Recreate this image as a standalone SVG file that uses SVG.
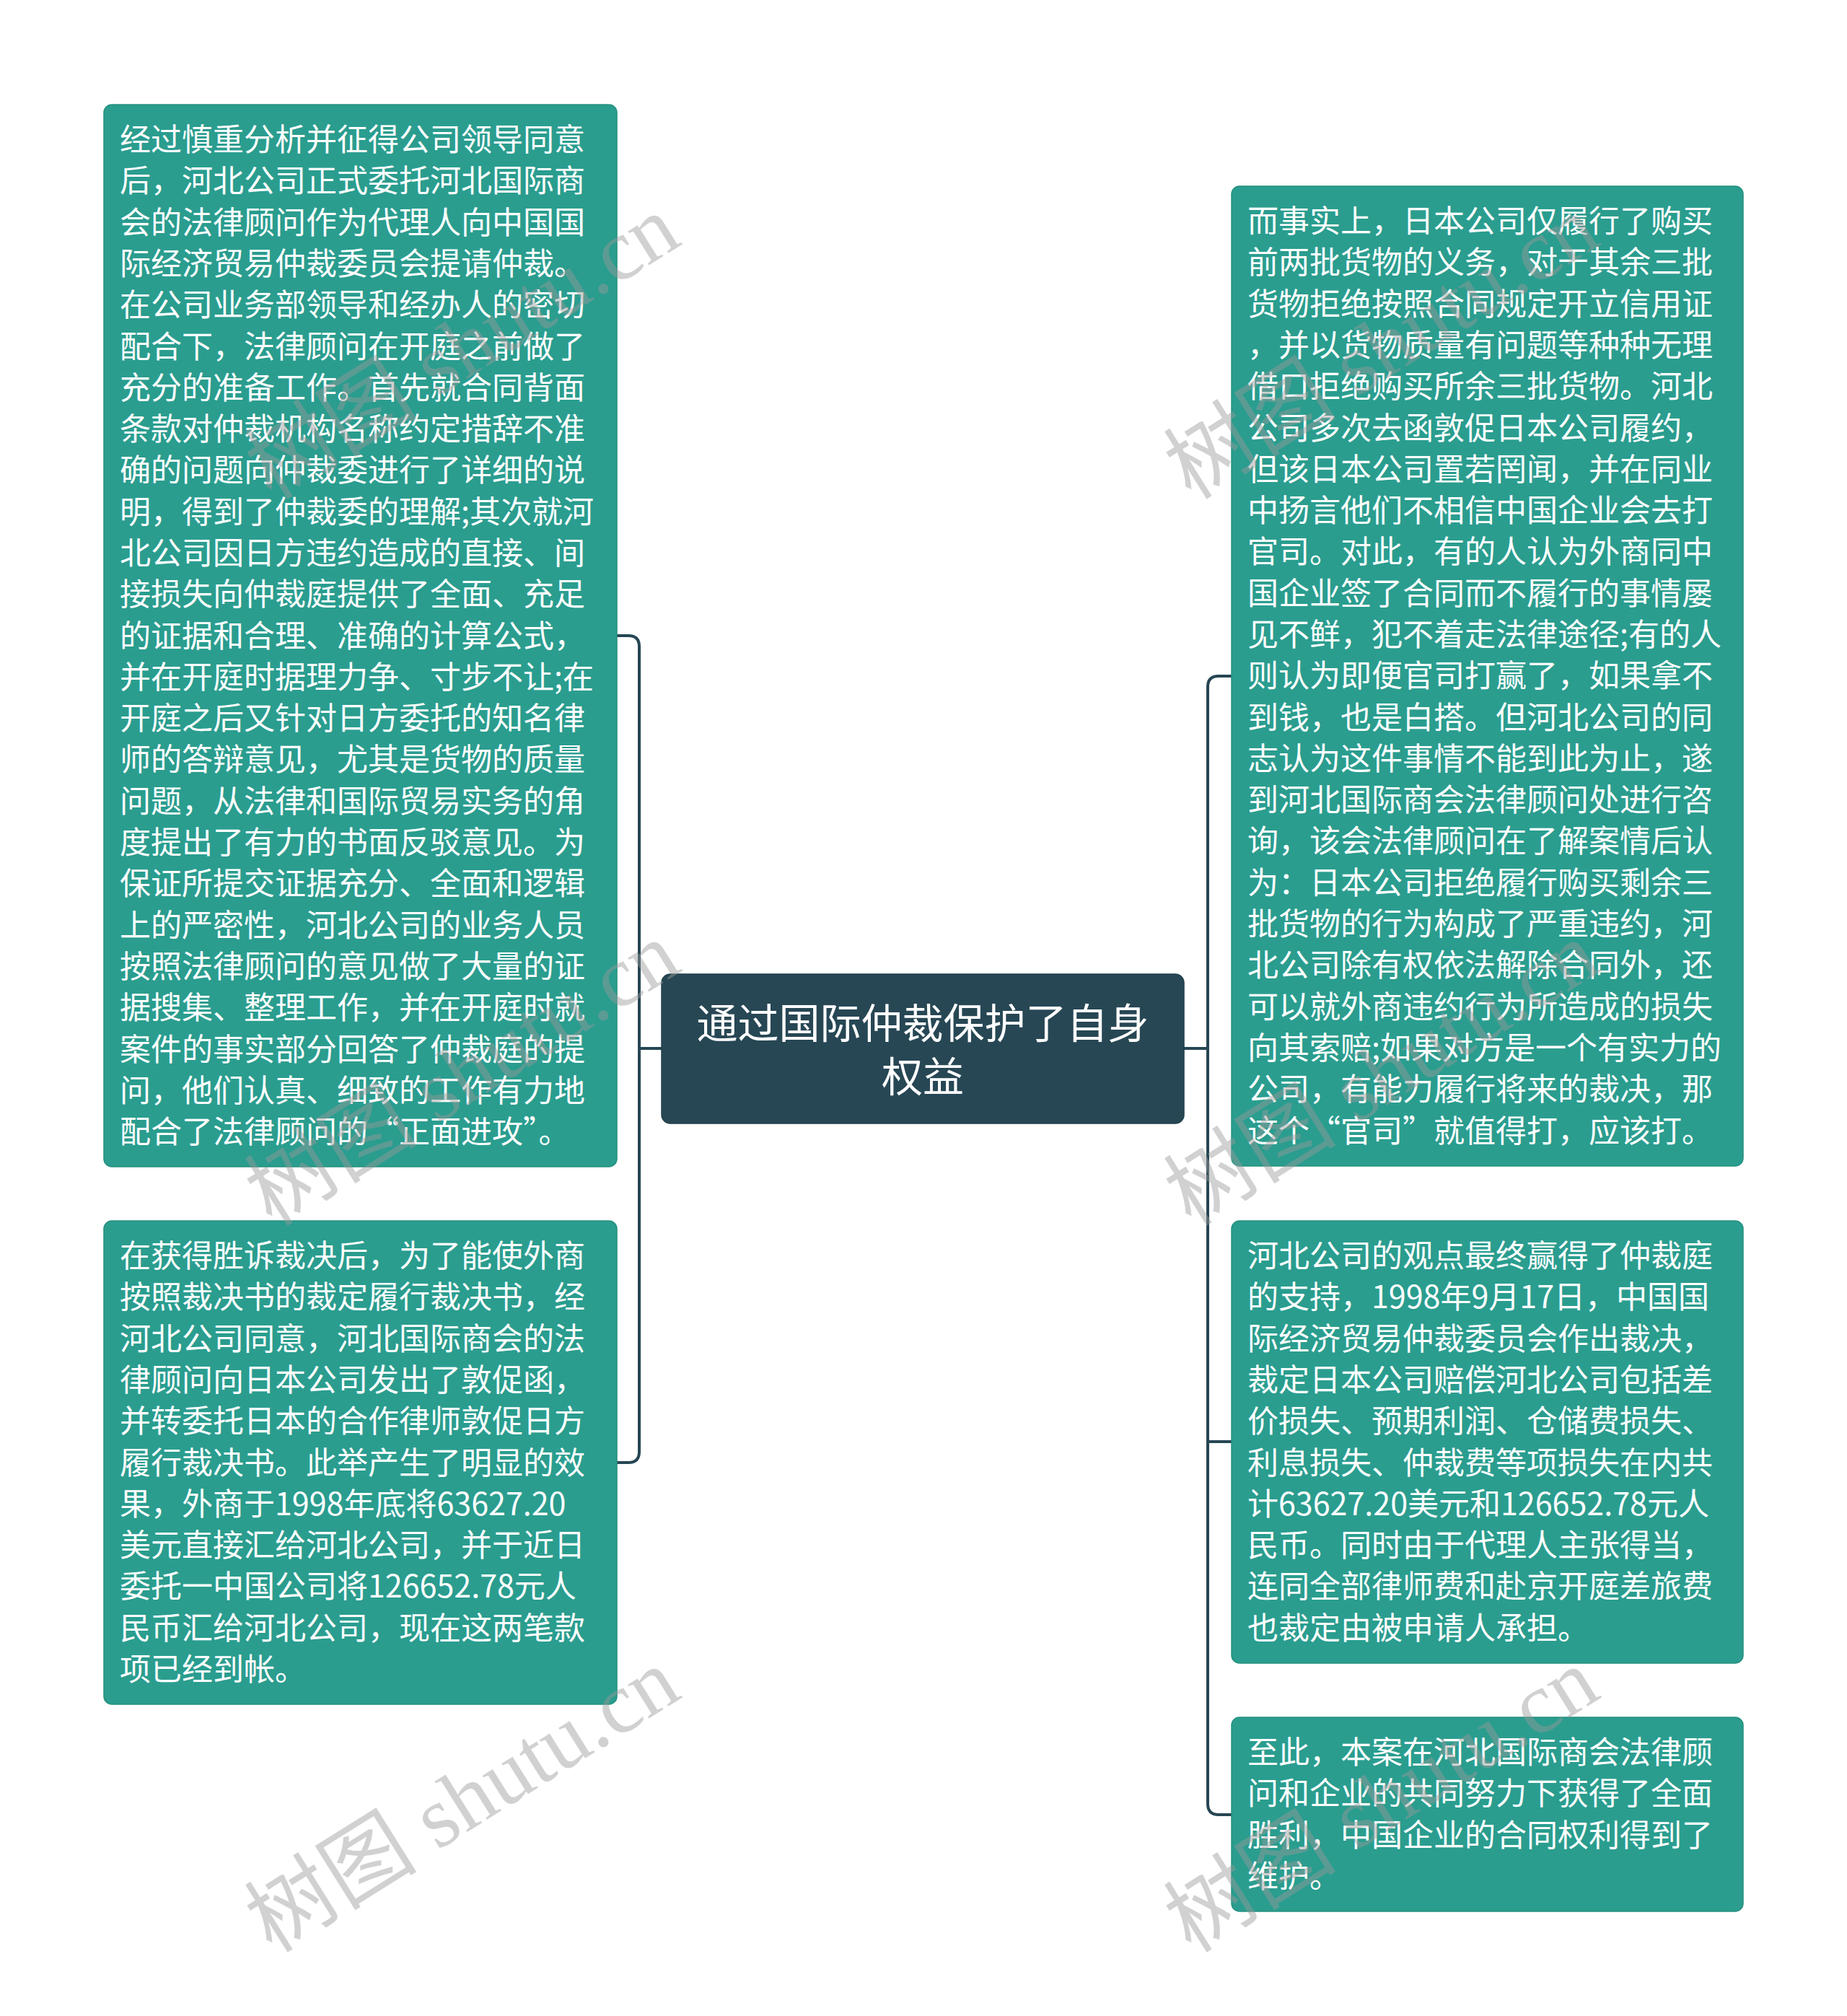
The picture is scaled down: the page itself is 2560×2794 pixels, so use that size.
<svg xmlns="http://www.w3.org/2000/svg" width="2560" height="2794" viewBox="0 0 2560 2794">
<style>
.bg{fill:#ffffff}
.node{fill:#2a9d8f;stroke:#25907f;stroke-width:1.5}
.root{fill:#274754;stroke:#22404c;stroke-width:1.5}
.t{font-family:"Noto Sans CJK SC","Noto Sans",sans-serif;font-size:43px;fill:#ffffff}
.rt{font-family:"Noto Sans CJK SC","Noto Sans",sans-serif;font-size:57px;fill:#ffffff;text-anchor:middle}
.conn{fill:none;stroke:#264653;stroke-width:4;stroke-linejoin:round}
.wm{font-family:"Liberation Serif","Noto Sans CJK SC",serif;font-size:120px;fill:#9a9a9a;opacity:0.45}
</style>
<rect class="bg" x="0" y="0" width="2560" height="2794"/>
<g id="connectors">
<path class="conn" d="M917,1453 H886"/>
<path class="conn" d="M855,881 H871 Q886,881 886,896 V2012 Q886,2027 871,2027 H855"/>
<path class="conn" d="M1641,1453 H1674"/>
<path class="conn" d="M1707,937 H1689 Q1674,937 1674,952 V2500 Q1674,2515 1689,2515 H1707"/>
<path class="conn" d="M1674,1998 H1707"/>
</g>
<g id="root">
<rect class="root" x="917" y="1350" width="724" height="207" rx="12"/>
<text class="rt" x="1279" y="1439">通过国际仲裁保护了自身</text>
<text class="rt" x="1279" y="1513">权益</text>
</g>
<g id="left1">
<rect class="node" x="144" y="145" width="711" height="1472" rx="11"/>
<text class="t" x="166" y="209">
<tspan x="166">经过慎重分析并征得公司领导同意</tspan>
<tspan x="166" dy="57.3">后，河北公司正式委托河北国际商</tspan>
<tspan x="166" dy="57.3">会的法律顾问作为代理人向中国国</tspan>
<tspan x="166" dy="57.3">际经济贸易仲裁委员会提请仲裁。</tspan>
<tspan x="166" dy="57.3">在公司业务部领导和经办人的密切</tspan>
<tspan x="166" dy="57.3">配合下，法律顾问在开庭之前做了</tspan>
<tspan x="166" dy="57.3">充分的准备工作。首先就合同背面</tspan>
<tspan x="166" dy="57.3">条款对仲裁机构名称约定措辞不准</tspan>
<tspan x="166" dy="57.3">确的问题向仲裁委进行了详细的说</tspan>
<tspan x="166" dy="57.3">明，得到了仲裁委的理解;其次就河</tspan>
<tspan x="166" dy="57.3">北公司因日方违约造成的直接、间</tspan>
<tspan x="166" dy="57.3">接损失向仲裁庭提供了全面、充足</tspan>
<tspan x="166" dy="57.3">的证据和合理、准确的计算公式，</tspan>
<tspan x="166" dy="57.3">并在开庭时据理力争、寸步不让;在</tspan>
<tspan x="166" dy="57.3">开庭之后又针对日方委托的知名律</tspan>
<tspan x="166" dy="57.3">师的答辩意见，尤其是货物的质量</tspan>
<tspan x="166" dy="57.3">问题，从法律和国际贸易实务的角</tspan>
<tspan x="166" dy="57.3">度提出了有力的书面反驳意见。为</tspan>
<tspan x="166" dy="57.3">保证所提交证据充分、全面和逻辑</tspan>
<tspan x="166" dy="57.3">上的严密性，河北公司的业务人员</tspan>
<tspan x="166" dy="57.3">按照法律顾问的意见做了大量的证</tspan>
<tspan x="166" dy="57.3">据搜集、整理工作，并在开庭时就</tspan>
<tspan x="166" dy="57.3">案件的事实部分回答了仲裁庭的提</tspan>
<tspan x="166" dy="57.3">问，他们认真、细致的工作有力地</tspan>
<tspan x="166" dy="57.3">配合了法律顾问的“正面进攻”。</tspan>
</text>
</g>
<g id="left2">
<rect class="node" x="144" y="1692" width="711" height="670" rx="11"/>
<text class="t" x="166" y="1756">
<tspan x="166">在获得胜诉裁决后，为了能使外商</tspan>
<tspan x="166" dy="57.3">按照裁决书的裁定履行裁决书，经</tspan>
<tspan x="166" dy="57.3">河北公司同意，河北国际商会的法</tspan>
<tspan x="166" dy="57.3">律顾问向日本公司发出了敦促函，</tspan>
<tspan x="166" dy="57.3">并转委托日本的合作律师敦促日方</tspan>
<tspan x="166" dy="57.3">履行裁决书。此举产生了明显的效</tspan>
<tspan x="166" dy="57.3">果，外商于1998年底将63627.20</tspan>
<tspan x="166" dy="57.3">美元直接汇给河北公司，并于近日</tspan>
<tspan x="166" dy="57.3">委托一中国公司将126652.78元人</tspan>
<tspan x="166" dy="57.3">民币汇给河北公司，现在这两笔款</tspan>
<tspan x="166" dy="57.3">项已经到帐。</tspan>
</text>
</g>
<g id="right1">
<rect class="node" x="1707" y="258" width="709" height="1358" rx="11"/>
<text class="t" x="1729" y="322">
<tspan x="1729">而事实上，日本公司仅履行了购买</tspan>
<tspan x="1729" dy="57.3">前两批货物的义务，对于其余三批</tspan>
<tspan x="1729" dy="57.3">货物拒绝按照合同规定开立信用证</tspan>
<tspan x="1729" dy="57.3">，并以货物质量有问题等种种无理</tspan>
<tspan x="1729" dy="57.3">借口拒绝购买所余三批货物。河北</tspan>
<tspan x="1729" dy="57.3">公司多次去函敦促日本公司履约，</tspan>
<tspan x="1729" dy="57.3">但该日本公司置若罔闻，并在同业</tspan>
<tspan x="1729" dy="57.3">中扬言他们不相信中国企业会去打</tspan>
<tspan x="1729" dy="57.3">官司。对此，有的人认为外商同中</tspan>
<tspan x="1729" dy="57.3">国企业签了合同而不履行的事情屡</tspan>
<tspan x="1729" dy="57.3">见不鲜，犯不着走法律途径;有的人</tspan>
<tspan x="1729" dy="57.3">则认为即便官司打赢了，如果拿不</tspan>
<tspan x="1729" dy="57.3">到钱，也是白搭。但河北公司的同</tspan>
<tspan x="1729" dy="57.3">志认为这件事情不能到此为止，遂</tspan>
<tspan x="1729" dy="57.3">到河北国际商会法律顾问处进行咨</tspan>
<tspan x="1729" dy="57.3">询，该会法律顾问在了解案情后认</tspan>
<tspan x="1729" dy="57.3">为：日本公司拒绝履行购买剩余三</tspan>
<tspan x="1729" dy="57.3">批货物的行为构成了严重违约，河</tspan>
<tspan x="1729" dy="57.3">北公司除有权依法解除合同外，还</tspan>
<tspan x="1729" dy="57.3">可以就外商违约行为所造成的损失</tspan>
<tspan x="1729" dy="57.3">向其索赔;如果对方是一个有实力的</tspan>
<tspan x="1729" dy="57.3">公司，有能力履行将来的裁决，那</tspan>
<tspan x="1729" dy="57.3">这个“官司”就值得打，应该打。</tspan>
</text>
</g>
<g id="right2">
<rect class="node" x="1707" y="1692" width="709" height="613" rx="11"/>
<text class="t" x="1729" y="1756">
<tspan x="1729">河北公司的观点最终赢得了仲裁庭</tspan>
<tspan x="1729" dy="57.3">的支持，1998年9月17日，中国国</tspan>
<tspan x="1729" dy="57.3">际经济贸易仲裁委员会作出裁决，</tspan>
<tspan x="1729" dy="57.3">裁定日本公司赔偿河北公司包括差</tspan>
<tspan x="1729" dy="57.3">价损失、预期利润、仓储费损失、</tspan>
<tspan x="1729" dy="57.3">利息损失、仲裁费等项损失在内共</tspan>
<tspan x="1729" dy="57.3">计63627.20美元和126652.78元人</tspan>
<tspan x="1729" dy="57.3">民币。同时由于代理人主张得当，</tspan>
<tspan x="1729" dy="57.3">连同全部律师费和赴京开庭差旅费</tspan>
<tspan x="1729" dy="57.3">也裁定由被申请人承担。</tspan>
</text>
</g>
<g id="right3">
<rect class="node" x="1707" y="2380" width="709" height="269" rx="11"/>
<text class="t" x="1729" y="2444">
<tspan x="1729">至此，本案在河北国际商会法律顾</tspan>
<tspan x="1729" dy="57.3">问和企业的共同努力下获得了全面</tspan>
<tspan x="1729" dy="57.3">胜利，中国企业的合同权利得到了</tspan>
<tspan x="1729" dy="57.3">维护。</tspan>
</text>
</g>
<g id="watermarks">
<text class="wm" x="377" y="2708" transform="rotate(-32 377 2708)">树图 shutu.cn</text>
<text class="wm" x="377" y="1701" transform="rotate(-32 377 1701)">树图 shutu.cn</text>
<text class="wm" x="377" y="694" transform="rotate(-32 377 694)">树图 shutu.cn</text>
<text class="wm" x="1651" y="2708" transform="rotate(-32 1651 2708)">树图 shutu.cn</text>
<text class="wm" x="1651" y="1701" transform="rotate(-32 1651 1701)">树图 shutu.cn</text>
<text class="wm" x="1651" y="694" transform="rotate(-32 1651 694)">树图 shutu.cn</text>
</g>
</svg>
